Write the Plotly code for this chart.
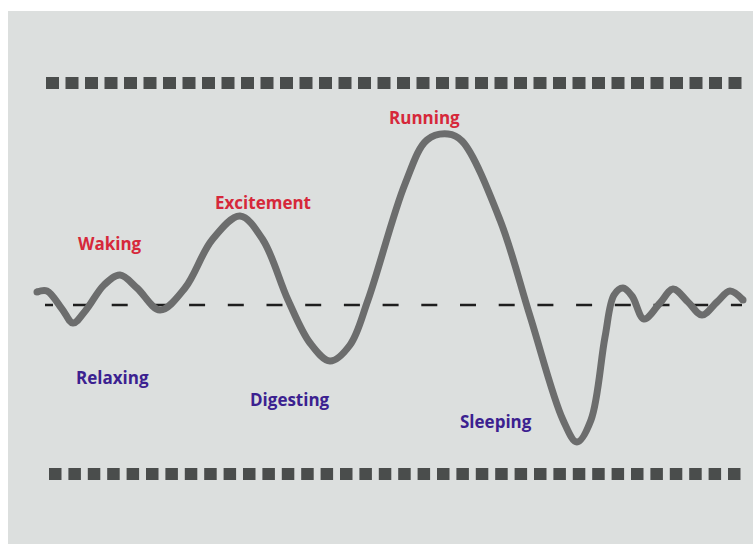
import plotly.graph_objects as go

# ---- data (time on x, arousal on y; 0 = resting baseline) ----
time = [37, 47, 62, 73, 86, 104, 120, 137, 160, 185, 212, 240, 263, 288, 310, 330, 350, 368,
        405, 427, 448, 462, 500, 530, 563, 577, 591, 605, 614, 623, 632, 644, 660, 673, 688,
        702, 717, 730, 743]
arousal_px = [292, 291, 309, 323, 310, 285, 275, 288, 310, 288, 240, 216, 240, 300, 343, 361, 345, 300,
              184, 140, 134, 141, 220, 316, 420, 442, 420, 337, 295, 288, 296, 319, 303, 289, 302,
              315, 302, 291, 300]
BASE = 305
arousal = [BASE - v for v in arousal_px]

label_text = ["Waking", "Excitement", "Running", "Relaxing", "Digesting", "Sleeping"]
label_x = [110, 263, 424, 112, 290, 496]
label_y = [BASE - v for v in [243, 202, 117, 377, 399, 421]]
label_kind = ["up", "up", "up", "down", "down", "down"]

upper_limit = BASE - 83   # window of tolerance ceiling
lower_limit = BASE - 474  # window of tolerance floor

W, H = 753, 544
RED = "#d6283a"
PURPLE = "#3b2190"
CURVE = "#6c6d6d"
SQUARE = "#4a4d4c"

fig = go.Figure()

fig.add_trace(go.Scatter(
    x=time, y=arousal, mode="lines",
    line=dict(color=CURVE, width=7, shape="spline", smoothing=1.0),
    hoverinfo="skip", showlegend=False))
fig.add_trace(go.Scatter(
    x=[time[0], time[-1]], y=[arousal[0], arousal[-1]], mode="markers",
    marker=dict(color=CURVE, size=7, line=dict(width=0)),
    hoverinfo="skip", showlegend=False))

shapes = []
shapes.append(dict(type="rect", xref="x", yref="y", x0=8, x1=W + 5,
                   y0=BASE - H - 5, y1=BASE - 11,
                   fillcolor="#dcdfde", line=dict(width=0), layer="below"))
shapes.append(dict(type="line", xref="x", yref="y", x0=46, x1=742, y0=upper_limit, y1=upper_limit,
                   line=dict(color=SQUARE, width=12, dash="13px,6.5px"), layer="below"))
shapes.append(dict(type="line", xref="x", yref="y", x0=49, x1=745, y0=lower_limit, y1=lower_limit,
                   line=dict(color=SQUARE, width=12, dash="12.5px,6.9px"), layer="below"))
dash_pattern = "8px,20px," + ",".join(["16px,22.7px"] * 20)
shapes.append(dict(type="line", xref="x", yref="y", x0=45, x1=742, y0=0, y1=0,
                   line=dict(color="#1e1e1e", width=2.5, dash=dash_pattern), layer="below"))

annotations = []
for t, x, y, k in zip(label_text, label_x, label_y, label_kind):
    annotations.append(dict(
        x=x, y=y, xref="x", yref="y", text=t, showarrow=False,
        xanchor="center", yanchor="middle",
        font=dict(family="Open Sans", size=17, color=RED if k == "up" else PURPLE, weight="bold")))

fig.update_layout(
    width=W, height=H,
    margin=dict(l=0, r=0, t=0, b=0),
    paper_bgcolor="#ffffff", plot_bgcolor="rgba(0,0,0,0)",
    xaxis=dict(range=[0, W], visible=False, fixedrange=True),
    yaxis=dict(range=[BASE - H, BASE], visible=False, fixedrange=True),
    shapes=shapes, annotations=annotations,
    hovermode=False,
)

fig.write_html("out.html",
               config={"displayModeBar": False, "staticPlot": True},
               post_script="document.body.style.margin='0';document.body.style.overflow='hidden';")
